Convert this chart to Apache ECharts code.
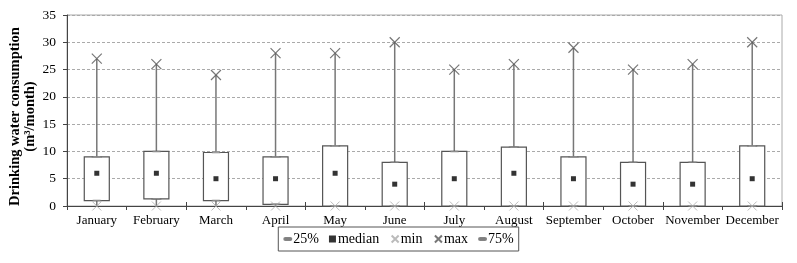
<!DOCTYPE html>
<html>
<head>
<meta charset="utf-8">
<script src="https://cdn.jsdelivr.net/npm/echarts@6/dist/echarts.min.js"></script>
<style>
  html, body { margin: 0; padding: 0; background: #fff; }
  #chart { width: 797px; height: 263px; }
</style>
</head>
<body>
<div id="chart"></div>
<script>
const months = ['January', 'February', 'March', 'April', 'May', 'June', 'July',
  'August', 'September', 'October', 'November', 'December'];
const minVals = [0, 0, 0, 0, 0, 0, 0, 0, 0, 0, 0, 0];
const q1Vals = [1, 1.3, 1, 0.3, 0, 0, 0, 0, 0, 0, 0, 0];
const medianVals = [6, 6, 5, 5, 6, 4, 5, 6, 5, 4, 4, 5];
const q3Vals = [9, 10, 9.8, 9, 11, 8, 10, 10.8, 9, 8, 8, 11];
const maxVals = [27, 26, 24, 28, 28, 30, 25, 26, 29, 25, 26, 30];
const yTicks = [0, 5, 10, 15, 20, 25, 30, 35];

const serif = 'Liberation Serif';
const crossPath = 'path://M0,0L10,10M10,0L0,10';
const capPath = 'path://M1.5,0H8.5A1.5,1.5,0,0,1,8.5,3H1.5A1.5,1.5,0,0,1,1.5,0Z';

// box + whisker drawn through the category/value scales
const boxData = months.map((m, i) => [i, minVals[i], q1Vals[i], medianVals[i], q3Vals[i], maxVals[i]]);

function renderBox(params, api) {
  const i = api.value(0);
  const lo = api.coord([i, api.value(1)]);
  const q1 = api.coord([i, api.value(2)]);
  const q3 = api.coord([i, api.value(4)]);
  const hi = api.coord([i, api.value(5)]);
  const w = api.size([1, 0])[0] * 0.42;
  return {
    type: 'group',
    children: [
      { type: 'line', shape: { x1: hi[0], y1: hi[1], x2: lo[0], y2: lo[1] },
        style: { stroke: '#777', lineWidth: 1.5 } },
      { type: 'rect', shape: { x: q3[0] - w / 2, y: q3[1], width: w, height: q1[1] - q3[1] },
        style: { fill: '#fff', stroke: '#555', lineWidth: 1.2 } }
    ]
  };
}

const chart = echarts.init(document.getElementById('chart'));
const option = {
  animation: false,
  textStyle: { fontFamily: serif },
  grid: {
    left: 67, right: 15, top: 15, bottom: 57,
    outerBoundsMode: 'none', containLabel: false,
    show: true, borderColor: '#aaa', borderWidth: 1
  },
  legend: {
    bottom: 12,
    left: 'center',
    data: ['25%', 'median', 'min', 'max', '75%'],
    itemWidth: 7,
    itemHeight: 7,
    itemGap: 10,
    padding: [5, 5, 5, 5],
    borderColor: '#555',
    borderWidth: 1,
    textStyle: { fontFamily: serif, fontSize: 14, color: '#000', padding: [0, 0, 0, -3] }
  },
  xAxis: [
    {
      type: 'category',
      data: months,
      axisLine: { lineStyle: { color: '#444' } },
      axisTick: { show: true, length: 4, lineStyle: { color: '#444' } },
      axisLabel: { fontFamily: serif, fontSize: 13, color: '#000', margin: 8, interval: 0 }
    },
    {
      // inner half of the ticks so they cross the axis line
      type: 'category',
      data: months,
      position: 'bottom',
      axisLine: { show: false },
      axisTick: { show: true, inside: true, length: 4, lineStyle: { color: '#444' } },
      axisLabel: { show: false },
      splitLine: { show: false }
    }
  ],
  yAxis: {
    type: 'value',
    min: yTicks[0],
    max: yTicks[yTicks.length - 1],
    interval: 5,
    name: 'Drinking water consumption\n(m³/month)',
    nameLocation: 'middle',
    nameRotate: 90,
    nameGap: 29,
    nameMoveOverlap: false,
    nameTextStyle: {
      fontFamily: serif, fontSize: 14.5, fontWeight: 'bold', color: '#000',
      lineHeight: 15, padding: [0, 12, 0, 0]
    },
    axisLine: { show: true, lineStyle: { color: '#444' } },
    axisTick: { show: true, length: 4, lineStyle: { color: '#444' } },
    axisLabel: { fontFamily: serif, fontSize: 13.5, color: '#000', margin: 11 },
    splitLine: { lineStyle: { color: '#aaa', type: [3, 2] } }
  },
  series: [
    {
      type: 'custom',
      name: 'box',
      data: boxData,
      renderItem: renderBox,
      encode: { x: 0, y: [1, 2, 3, 4, 5] },
      silent: true
    },
    {
      type: 'scatter', name: '25%', data: q1Vals,
      symbol: capPath, symbolSize: [9, 3], symbolKeepAspect: true,
      itemStyle: { color: '#ddd', borderColor: '#666', borderWidth: 1 }
    },
    {
      type: 'scatter', name: 'median', data: medianVals,
      symbol: 'rect', symbolSize: 5,
      itemStyle: { color: '#000' }
    },
    {
      type: 'scatter', name: 'min', data: minVals,
      symbol: crossPath, symbolSize: 9,
      itemStyle: { color: 'none', borderColor: '#aaa', borderWidth: 1 }
    },
    {
      type: 'scatter', name: 'max', data: maxVals,
      symbol: crossPath, symbolSize: 10,
      itemStyle: { color: 'none', borderColor: '#555', borderWidth: 1.2 }
    },
    {
      type: 'scatter', name: '75%', data: q3Vals,
      symbol: capPath, symbolSize: [9, 3], symbolKeepAspect: true,
      itemStyle: { color: '#ddd', borderColor: '#666', borderWidth: 1 }
    }
  ]
};
chart.setOption(option);
</script>
</body>
</html>
